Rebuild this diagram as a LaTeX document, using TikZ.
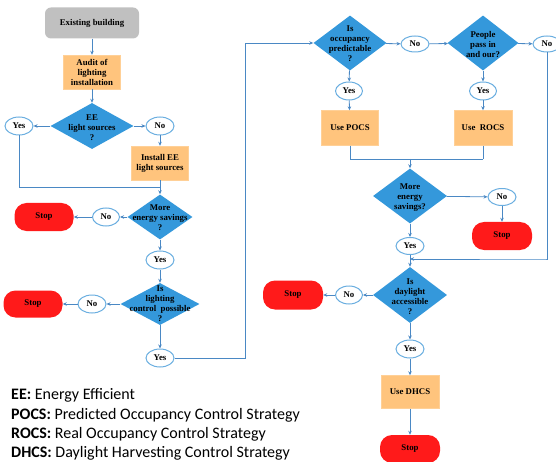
\documentclass[tikz,border=0pt]{standalone}
\usepackage{fontspec}
\setmainfont{Liberation Serif}
\newfontfamily\legendfont{Carlito}
\usetikzlibrary{shapes.geometric,arrows.meta}
\definecolor{lineblue}{HTML}{4A88C4}
\definecolor{diablue}{HTML}{3498DB}
\definecolor{ellblue}{HTML}{6AAEE0}
\definecolor{boxorange}{HTML}{FFC47D}
\definecolor{stopred}{HTML}{FF1A1A}
\definecolor{startgray}{HTML}{C0C0C0}
\tikzset{
  every node/.style={font=\bfseries\fontsize{8.8}{10}\selectfont, align=center, inner sep=0pt},
  conn/.style={draw=lineblue, line width=0.8pt},
  arr/.style={conn, -{Stealth[length=4pt,width=3.5pt]}},
  startbox/.style={rectangle, rounded corners=6pt, fill=startgray, minimum width=94pt, minimum height=31pt},
  procbox/.style={rectangle, fill=boxorange, draw=boxorange!80!white, minimum width=57pt, minimum height=34pt},
  dia/.style={diamond, fill=diablue, inner sep=0pt},
  dtext/.style={text=black},
  ell/.style={ellipse, draw=ellblue, line width=1pt, fill=white, minimum width=28pt, minimum height=18pt},
  stopbox/.style={rectangle, rounded corners=12pt, fill=stopred, minimum width=60pt, minimum height=28pt},
  legend/.style={font=\legendfont\fontsize{16}{19.5}\selectfont, anchor=west, align=left}
}
\begin{document}
\begin{tikzpicture}[x=1pt,y=-1pt]
\useasboundingbox (0,0) rectangle (556,462);
% left column
\node[startbox] (eb) at (92,23) {Existing building};
\node[procbox] (audit) at (92,72) {Audit of\\lighting\\installation};
\node[dia, minimum width=83pt, minimum height=46pt] (d1) at (92,126) {};
\node[dtext] (d1t) at (92,128) {EE\\light sources\\?};
\node[ell] (y1) at (19,126) {Yes};
\node[ell] (n1) at (160,126) {No};
\node[procbox] (inst) at (160,163) {Install EE\\light sources};
\coordinate (m1) at (160,187);
\node[dia, minimum width=65pt, minimum height=45pt] (d2) at (160,217) {};
\node[dtext] (d2t) at (160,218) {More\\energy savings\\?};
\node[ell, minimum width=27pt] (n2) at (106,217) {No};
\node[stopbox, minimum width=59pt] (s2) at (44,217) {Stop};
\node[ell] (y2) at (160,260) {Yes};
\node[dia, minimum width=79pt, minimum height=42pt] (d3) at (160,304) {};
\node[dtext] (d3t) at (160,304) {Is\\lighting\\control\ \ possible\\?};
\node[ell] (n3) at (92,304) {No};
\node[stopbox, minimum width=59pt, minimum height=27pt] (s3) at (33,304) {Stop};
\node[ell] (y3) at (160,358) {Yes};
\coordinate (c1) at (245,358);
% right part
\node[dia, minimum width=73pt, minimum height=55pt] (d4) at (350,43) {};
\node[dtext] (d4t) at (350,44) {Is\\occupancy\\predictable\\?};
\node[ell, minimum height=16pt] (n4) at (415,44) {No};
\node[dia, minimum width=71pt, minimum height=55pt] (d5) at (483,43) {};
\node[dtext] (d5t) at (483,45) {People\\pass in\\and our?};
\node[ell, minimum height=16pt] (n5) at (547,44) {No};
\coordinate (c2) at (546,259);
\node[ell, minimum width=27pt] (y4) at (349,91) {Yes};
\node[procbox, minimum height=35pt] (pocs) at (350,128) {Use POCS};
\node[ell, minimum width=27pt] (y5) at (483,91) {Yes};
\node[procbox, minimum width=58pt, minimum height=35pt] (rocs) at (483,128) {Use\ \ ROCS};
\coordinate (j) at (483,159);
\coordinate (m2) at (410,159);
\node[dia, minimum width=74pt, minimum height=55pt] (d6) at (410,196) {};
\node[dtext] (d6t) at (410,198) {More\\energy\\savings?};
\node[ell, minimum height=17pt] (n6) at (502,197) {No};
\node[stopbox] (s6) at (502,236) {Stop};
\node[ell, minimum height=17pt] (y6) at (410,246) {Yes};
\coordinate (m3) at (410,259);
\node[dia, minimum width=74pt, minimum height=56pt] (d7) at (410,295) {};
\node[dtext] (d7t) at (410,297) {Is\\daylight\\accessible\\?};
\node[ell, minimum width=27pt] (n7) at (349,295) {No};
\node[stopbox, minimum height=29pt] (s7) at (293,295) {Stop};
\node[ell] (y7) at (410,349) {Yes};
\node[procbox, minimum width=58pt, minimum height=33pt] (dhcs) at (410,392) {Use DHCS};
\node[stopbox] (s8) at (410,449) {Stop};
% connectors
\draw[arr] (eb) -- (audit);
\draw[arr] (audit) -- (d1);
\draw[arr] (d1) -- (y1);
\draw[arr] (d1) -- (n1);
\draw[arr] (n1) -- (inst);
\draw[conn] (y1.south) |- (m1);
\draw[conn] (inst.south) -- (m1);
\draw[arr] (m1) -- (d2.north);
\draw[arr] (d2) -- (n2);
\draw[arr] (n2) -- (s2);
\draw[arr] (d2) -- (y2);
\draw[arr] (y2) -- (d3);
\draw[arr] (d3) -- (n3);
\draw[arr] (n3) -- (s3);
\draw[arr] (d3) -- (y3);
\draw[arr] (y3.east) -- (c1) |- (d4.west);
\draw[arr] (d4) -- (n4);
\draw[arr] (n4) -- (d5);
\draw[arr] (d5) -- (n5);
\draw[arr] (d4) -- (y4);
\draw[arr] (y4) -- (pocs);
\draw[arr] (d5) -- (y5);
\draw[arr] (y5) -- (rocs);
\draw[conn] (pocs.south) |- (j);
\draw[conn] (rocs.south) -- (j);
\draw[arr] (m2) -- (d6.north);
\draw[arr] (d6) -- (n6);
\draw[arr] (n6) -- (s6);
\draw[arr] (d6) -- (y6);
\draw[arr] (y6) -- (d7);
\draw[arr] (n5.south) |- (c2) -- (m3);
\draw[arr] (d7) -- (n7);
\draw[arr] (n7) -- (s7);
\draw[arr] (d7) -- (y7);
\draw[arr] (y7) -- (dhcs);
\draw[arr] (dhcs) -- (s8);
% legend
\node[legend] (lg1) at (11,395.5) {\textbf{EE:} Energy Efficient};
\node[legend] (lg2) at (11,415) {\textbf{POCS:} Predicted Occupancy Control Strategy};
\node[legend] (lg3) at (11,434.5) {\textbf{ROCS:} Real Occupancy Control Strategy};
\node[legend] (lg4) at (11,453.5) {\textbf{DHCS:} Daylight Harvesting Control Strategy};
\end{tikzpicture}
\end{document}
